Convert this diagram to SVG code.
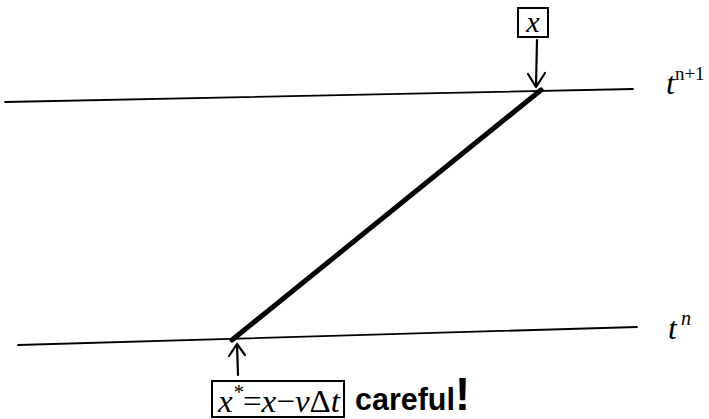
<svg xmlns="http://www.w3.org/2000/svg" width="709" height="419" viewBox="0 0 709 419">
<style>
.ln{stroke:#000;fill:none;stroke-linecap:round;stroke-linejoin:round}
.m{font-family:"Liberation Serif",serif;font-style:italic;fill:#000}
.box{fill:none;stroke:#000;stroke-width:2}
</style>
<rect width="709" height="419" fill="#fff"/>
<g id="connectors">
<path class="ln" d="M5 102 L633 89" stroke-width="1.8"/>
<path class="ln" d="M18 345 L637 327" stroke-width="1.8"/>
<path class="ln" d="M232 340 L541 90" stroke-width="5"/>
<path class="ln" d="M537 40 L536 86 M528 74 L536 87 L545 73" stroke-width="2.2"/>
<path class="ln" d="M238 375 L237 345 M229 356 L237 344 L245 355" stroke-width="2.2"/>
</g>
<g id="node-x">
<rect class="box" x="518" y="8" width="30" height="29"/>
<text class="m" x="533" y="32" font-size="30" text-anchor="middle">x</text>
</g>
<g id="node-xstar">
<rect class="box" x="212" y="381" width="132" height="36"/>
<text class="m" x="218" y="412" font-size="32" textLength="122" lengthAdjust="spacingAndGlyphs">x<tspan font-size="20" dy="-13">*</tspan><tspan dy="13" font-style="normal">=</tspan>x<tspan font-style="normal">−</tspan>v<tspan font-style="normal">Δ</tspan>t</text>
</g>
<g id="label-careful">
<text x="355" y="410" font-family="Liberation Sans, sans-serif" font-weight="bold" font-size="31" fill="#000" textLength="115" lengthAdjust="spacingAndGlyphs">careful<tspan font-size="46">!</tspan></text>
</g>
<g id="label-tn1">
<text class="m" x="666" y="94" font-size="32">t<tspan font-size="19" dy="-14" font-style="normal">n+1</tspan></text>
</g>
<g id="label-tn">
<text class="m" x="668" y="339" font-size="32">t<tspan font-size="20" dy="-14" dx="4">n</tspan></text>
</g>
</svg>
